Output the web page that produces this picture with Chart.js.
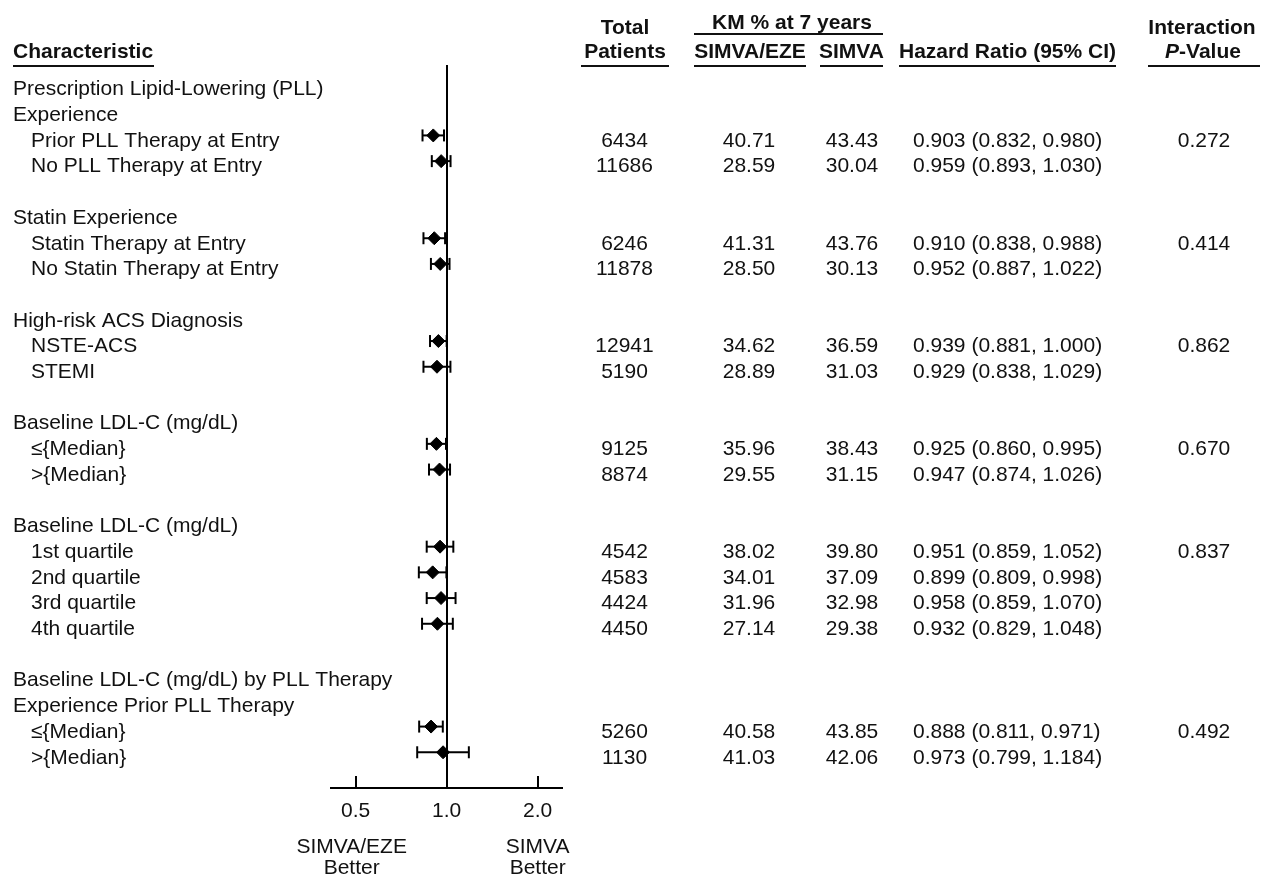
<!DOCTYPE html>
<html>
<head>
<meta charset="utf-8">
<script src="https://cdn.jsdelivr.net/npm/chart.js@4.4.1/dist/chart.umd.min.js"></script>
<style>
  html, body { margin: 0; padding: 0; background: #ffffff; }
  canvas { display: block; }
</style>
</head>
<body>
<canvas id="forest" width="1263" height="877"></canvas>
<script>
// ---- Table rows (one entry per line of the figure; '' is a spacer line) ----
const characteristics = [
  'Prescription Lipid-Lowering (PLL)',
  'Experience',
  'Prior PLL Therapy at Entry',
  'No PLL Therapy at Entry',
  '',
  'Statin Experience',
  'Statin Therapy at Entry',
  'No Statin Therapy at Entry',
  '',
  'High-risk ACS Diagnosis',
  'NSTE-ACS',
  'STEMI',
  '',
  'Baseline LDL-C (mg/dL)',
  '\u2264{Median}',
  '>{Median}',
  '',
  'Baseline LDL-C (mg/dL)',
  '1st quartile',
  '2nd quartile',
  '3rd quartile',
  '4th quartile',
  '',
  'Baseline LDL-C (mg/dL) by PLL Therapy',
  'Experience Prior PLL Therapy',
  '\u2264{Median}',
  '>{Median}'
];

const totalPatients = [null, null, 6434, 11686, null, null, 6246, 11878, null, null, 12941, 5190, null, null, 9125, 8874, null, null, 4542, 4583, 4424, 4450, null, null, null, 5260, 1130];
const kmSimvaEze    = [null, null, 40.71, 28.59, null, null, 41.31, 28.50, null, null, 34.62, 28.89, null, null, 35.96, 29.55, null, null, 38.02, 34.01, 31.96, 27.14, null, null, null, 40.58, 41.03];
const kmSimva       = [null, null, 43.43, 30.04, null, null, 43.76, 30.13, null, null, 36.59, 31.03, null, null, 38.43, 31.15, null, null, 39.80, 37.09, 32.98, 29.38, null, null, null, 43.85, 42.06];
const hazardRatio   = [null, null, 0.903, 0.959, null, null, 0.910, 0.952, null, null, 0.939, 0.929, null, null, 0.925, 0.947, null, null, 0.951, 0.899, 0.958, 0.932, null, null, null, 0.888, 0.973];
const ciLower       = [null, null, 0.832, 0.893, null, null, 0.838, 0.887, null, null, 0.881, 0.838, null, null, 0.860, 0.874, null, null, 0.859, 0.809, 0.859, 0.829, null, null, null, 0.811, 0.799];
const ciUpper       = [null, null, 0.980, 1.030, null, null, 0.988, 1.022, null, null, 1.000, 1.029, null, null, 0.995, 1.026, null, null, 1.052, 0.998, 1.070, 1.048, null, null, null, 0.971, 1.184];
const interactionP  = [null, null, 0.272, null, null, null, 0.414, null, null, null, 0.862, null, null, null, 0.670, null, null, null, 0.837, null, null, null, null, null, null, 0.492, null];

const axisTicks = [0.5, 1.0, 2.0];
const favourLabels = [['SIMVA/EZE', 'Better'], ['SIMVA', 'Better']];

// ---- Drawing styles ----
const FONT = '"Liberation Sans", Arial, Helvetica, sans-serif';
const INK = '#111111';
const FS = 21;

const rowsWithData = hazardRatio.map((v, i) => v === null ? null : i).filter(i => i !== null);

// diamonds for the point estimates
const pointSet = {
  label: 'Hazard ratio',
  data: rowsWithData.map(i => ({ x: hazardRatio[i], y: i })),
  pointStyle: 'rectRot',
  pointRadius: 6.5,
  pointBackgroundColor: '#000',
  pointBorderColor: '#000',
  pointBorderWidth: 1,
  order: 0
};

// one whisker per subgroup, capped at both ends
const whiskerSets = rowsWithData.map(i => ({
  label: 'CI ' + i,
  data: [{ x: ciLower[i], y: i }, { x: ciUpper[i], y: i }],
  showLine: true,
  borderColor: '#000',
  borderWidth: 2,
  pointStyle: 'line',
  rotation: 90,
  pointRadius: 6,
  pointBorderColor: '#000',
  pointBorderWidth: 2,
  order: 1
}));

function fmt(v, d) { return v === null ? '' : Number(v).toFixed(d); }

const tablePlugin = {
  id: 'forestTable',
  afterDraw(chart) {
    const { ctx, scales: { x, y }, chartArea } = chart;
    ctx.save();
    ctx.fillStyle = INK;
    ctx.strokeStyle = '#000';
    ctx.textBaseline = 'middle';

    // upward tick marks on the hazard-ratio axis
    ctx.lineWidth = 2;
    axisTicks.forEach(v => {
      const px = Math.round(x.getPixelForValue(v));
      ctx.beginPath();
      ctx.moveTo(px, chartArea.bottom);
      ctx.lineTo(px, chartArea.bottom - 12);
      ctx.stroke();
    });

    // column headings
    const bold = `bold ${FS}px ${FONT}`;
    const regular = `${FS}px ${FONT}`;
    ctx.font = bold;
    ctx.textAlign = 'left';
    ctx.fillText('Characteristic', 13, 52);
    ctx.textAlign = 'center';
    ctx.fillText('Total', 625, 28);
    ctx.fillText('Patients', 625, 52);
    ctx.fillText('KM % at 7 years', 792, 23);
    ctx.fillText('SIMVA/EZE', 750, 52);
    ctx.fillText('SIMVA', 851.5, 52);
    ctx.fillText('Hazard Ratio (95% CI)', 1007.5, 52);
    ctx.fillText('Interaction', 1202, 28);
    // "P-Value" with an italic P
    const italic = `italic bold ${FS}px ${FONT}`;
    ctx.font = italic;
    const wP = ctx.measureText('P').width;
    ctx.font = bold;
    const wRest = ctx.measureText('-Value').width;
    const startP = 1203 - (wP + wRest) / 2;
    ctx.textAlign = 'left';
    ctx.font = italic;
    ctx.fillText('P', startP, 52);
    ctx.font = bold;
    ctx.fillText('-Value', startP + wP, 52);

    // heading rules
    const rule = (x1, x2, yy) => ctx.fillRect(x1, yy - 1, x2 - x1, 2);
    rule(13, 154, 66);
    rule(581, 669, 66);
    rule(694, 883, 34);
    rule(694, 806, 66);
    rule(820, 883, 66);
    rule(899, 1116, 66);
    rule(1148, 1260, 66);

    // table body
    ctx.font = regular;
    characteristics.forEach((label, i) => {
      const ty = y.getPixelForValue(i) + 5.5;
      const hasData = totalPatients[i] !== null;
      ctx.textAlign = 'left';
      if (label) ctx.fillText(label, hasData ? 31 : 13, ty);
      if (!hasData) return;
      ctx.textAlign = 'center';
      ctx.fillText(String(totalPatients[i]), 624.5, ty);
      ctx.fillText(fmt(kmSimvaEze[i], 2), 749, ty);
      ctx.fillText(fmt(kmSimva[i], 2), 852, ty);
      ctx.textAlign = 'left';
      ctx.fillText(`${fmt(hazardRatio[i], 3)} (${fmt(ciLower[i], 3)}, ${fmt(ciUpper[i], 3)})`, 913, ty);
      if (interactionP[i] !== null) {
        ctx.textAlign = 'center';
        ctx.fillText(fmt(interactionP[i], 3), 1204, ty);
      }
    });

    // favour labels under the axis ends
    ctx.textAlign = 'center';
    [0.5, 2.0].forEach((v, k) => {
      const px = x.getPixelForValue(v) - (k === 0 ? 4 : 0);
      ctx.fillText(favourLabels[k][0], px, 847);
      ctx.fillText(favourLabels[k][1], px, 868);
    });
    ctx.restore();
  }
};

new Chart(document.getElementById('forest'), {
  type: 'scatter',
  data: { datasets: [pointSet, ...whiskerSets] },
  options: {
    responsive: false,
    animation: false,
    events: [],
    layout: { padding: { left: 331, right: 701, top: 65, bottom: 49 } },
    plugins: { legend: { display: false }, tooltip: { enabled: false }, title: { display: false } },
    scales: {
      x: {
        type: 'logarithmic',
        min: 0.4144,
        max: 2.407,
        afterBuildTicks: s => { s.ticks = axisTicks.map(v => ({ value: v })); },
        afterFit: s => { s.height = 40; },
        ticks: {
          autoSkip: false,
          maxRotation: 0,
          padding: 11,
          color: INK,
          font: { family: FONT, size: FS },
          callback: v => Number(v).toFixed(1)
        },
        grid: {
          drawTicks: false,
          lineWidth: 2,
          color: c => (c.tick && c.tick.value === 1) ? '#000' : 'rgba(0,0,0,0)'
        },
        border: { display: true, color: '#000', width: 2 }
      },
      y: {
        type: 'linear',
        display: false,
        reverse: true,
        min: -0.74,
        max: 27.39
      }
    }
  },
  plugins: [tablePlugin]
});
</script>
</body>
</html>
